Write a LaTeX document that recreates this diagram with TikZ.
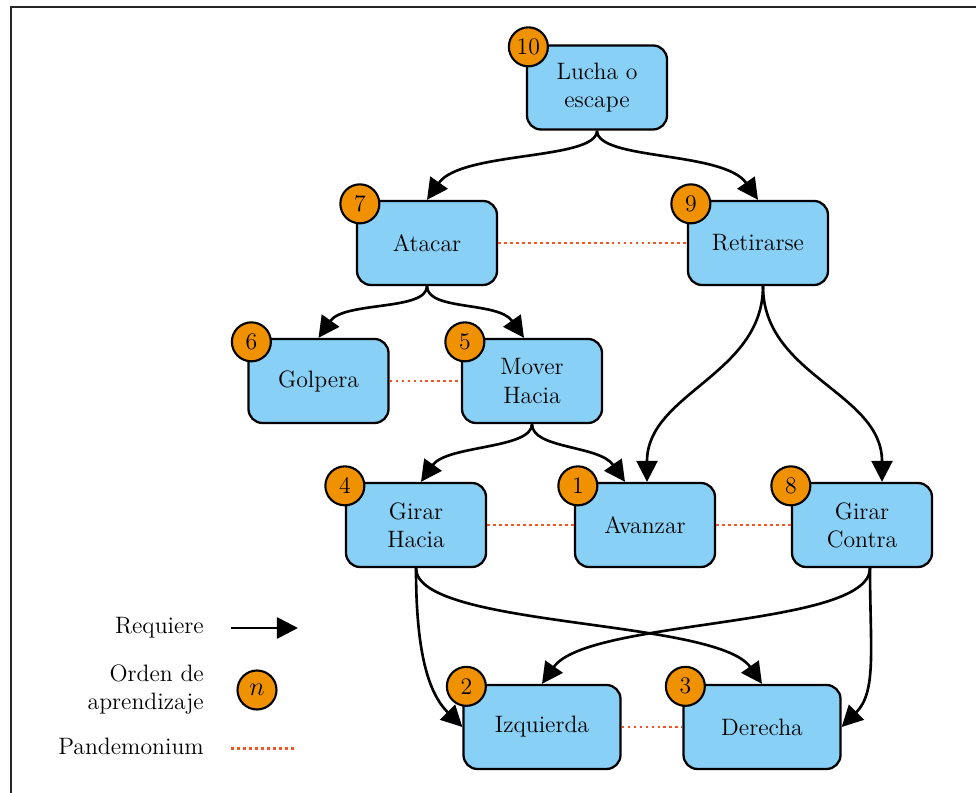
\RequirePackage{fix-cm}
\documentclass[tikz,border=0pt]{standalone}
\usetikzlibrary{arrows.meta}
\usetikzlibrary{calc}
\definecolor{skillblue}{RGB}{136,208,245}
\definecolor{badgeorange}{RGB}{240,145,0}
\definecolor{pandred}{RGB}{240,85,35}

\begin{document}
\begin{tikzpicture}

\tikzstyle{skill} = [draw, line width=1.3pt, fill=skillblue, rounded corners=0.28cm,
minimum width=2.8cm, minimum height=1.68cm, align=center, font=\fontsize{13.5}{16}\selectfont]
\tikzstyle{wide-skill} = [skill, minimum width=3.14cm]
\tikzstyle{badge} = [draw, circle, line width=1.2pt, fill=badgeorange, minimum size=0.78cm,
inner sep=0, font=\fontsize{13.5}{15}\selectfont]
\tikzstyle{req} = [line width=1.5pt, -{Triangle[length=12pt,width=12pt]}]
\tikzstyle{pand} = [pandred, line width=1.5pt, dash pattern=on 1.6pt off 1.8pt]
\tikzstyle{legend} = [anchor=east, align=right, font=\fontsize{13.5}{16}\selectfont]

\useasboundingbox (0,0) rectangle (19.52,15.86);
\draw[line width=1.2pt, black!85] (0.22,0) -- (0.22,15.72) -- (19.52,15.72);

% skills
\node [skill] (lucha) at (11.94,14.11) {Lucha o\\escape};
\node [skill] (atacar) at (8.54,11.00) {Atacar};
\node [skill] (retirarse) at (15.16,11.00) {Retirarse};
\node [skill] (golpera) at (6.37,8.24) {Golpera};
\node [skill] (mover) at (10.64,8.24) {Mover\\Hacia};
\node [skill] (girarh) at (8.32,5.36) {Girar\\Hacia};
\node [skill] (avanzar) at (12.90,5.36) {Avanzar};
\node [skill] (girarc) at (17.24,5.36) {Girar\\Contra};
\node [wide-skill] (izq) at (10.84,1.32) {Izquierda};
\node [wide-skill] (der) at (15.24,1.32) {Derecha};

% learning order
\node [badge] (b10) at ($(lucha.north west)+(0.05,-0.05)$) {10};
\node [badge] (b7) at ($(atacar.north west)+(0.08,-0.08)$) {7};
\node [badge] (b9) at ($(retirarse.north west)+(0.08,-0.08)$) {9};
\node [badge] (b6) at ($(golpera.north west)+(0.08,-0.08)$) {6};
\node [badge] (b5) at ($(mover.north west)+(0.08,-0.08)$) {5};
\node [badge] (b4) at ($(girarh.north west)+(0.0,-0.08)$) {4};
\node [badge] (b1) at ($(avanzar.north west)+(0.08,-0.08)$) {1};
\node [badge] (b8) at ($(girarc.north west)+(0.0,-0.08)$) {8};
\node [badge] (b2) at ($(izq.north west)+(0.08,-0.05)$) {2};
\node [badge] (b3) at ($(der.north west)+(0.06,-0.05)$) {3};

% requires
\draw[req] (lucha.south) to[out=-90,in=55,out distance=0.6cm,in distance=1.2cm] (atacar.north);
\draw[req] (lucha.south) to[out=-90,in=125,out distance=0.6cm,in distance=1.2cm] (retirarse.north);
\draw[req] (atacar.south) to[out=-90,in=55,out distance=0.5cm,in distance=0.9cm] (golpera.north);
\draw[req] (atacar.south) to[out=-90,in=125,out distance=0.5cm,in distance=0.9cm] ([xshift=-0.16cm]mover.north);
\draw[req] (mover.south) to[out=-90,in=55,out distance=0.5cm,in distance=0.9cm] ([xshift=0.1cm]girarh.north);
\draw[req] (mover.south) to[out=-90,in=125,out distance=0.5cm,in distance=0.9cm] ([xshift=-0.4cm]avanzar.north);
\draw[req] ([xshift=0.1cm]retirarse.south) to[out=-90,in=90,looseness=1] ([xshift=0.04cm]avanzar.north);
\draw[req] ([xshift=0.1cm]retirarse.south) to[out=-90,in=90,looseness=1] ([xshift=0.4cm]girarc.north);
\draw[req] (girarh.south) to[out=-90,in=135,out distance=1.6cm,in distance=1.0cm] (izq.west);
\draw[req] (girarh.south) to[out=-90,in=125,out distance=1.2cm,in distance=1.6cm] (der.north);
\draw[req] ([xshift=0.16cm]girarc.south) to[out=-90,in=55,out distance=1.2cm,in distance=1.6cm] (izq.north);
\draw[req] ([xshift=0.16cm]girarc.south) to[out=-90,in=45,out distance=1.6cm,in distance=1.0cm] (der.east);

% pandemonium
\draw[pand] (atacar.east) -- (retirarse.west);
\draw[pand] (golpera.east) -- (mover.west);
\draw[pand] (girarh.east) -- (avanzar.west);
\draw[pand] (avanzar.east) -- (girarc.west);
\draw[pand] (izq.east) -- (der.west);

% legend
\node [legend] (lreq) at (4.2,3.30) {Requiere};
\coordinate (lreqa) at (4.62,3.30);
\coordinate (lreqb) at (5.96,3.30);
\draw[req] (lreqa) -- (lreqb);

\node [legend] (lord) at (4.2,2.06) {Orden de\\aprendizaje};
\node [badge, font=\fontsize{15}{16}\selectfont] (ln) at (5.14,2.06) {$n$};

\node [legend] (lpand) at (4.2,0.94) {Pandemonium};
\coordinate (lpanda) at (4.62,0.89);
\coordinate (lpandb) at (5.92,0.89);
\draw[pand] (lpanda) -- (lpandb);

\end{tikzpicture}
\end{document}
